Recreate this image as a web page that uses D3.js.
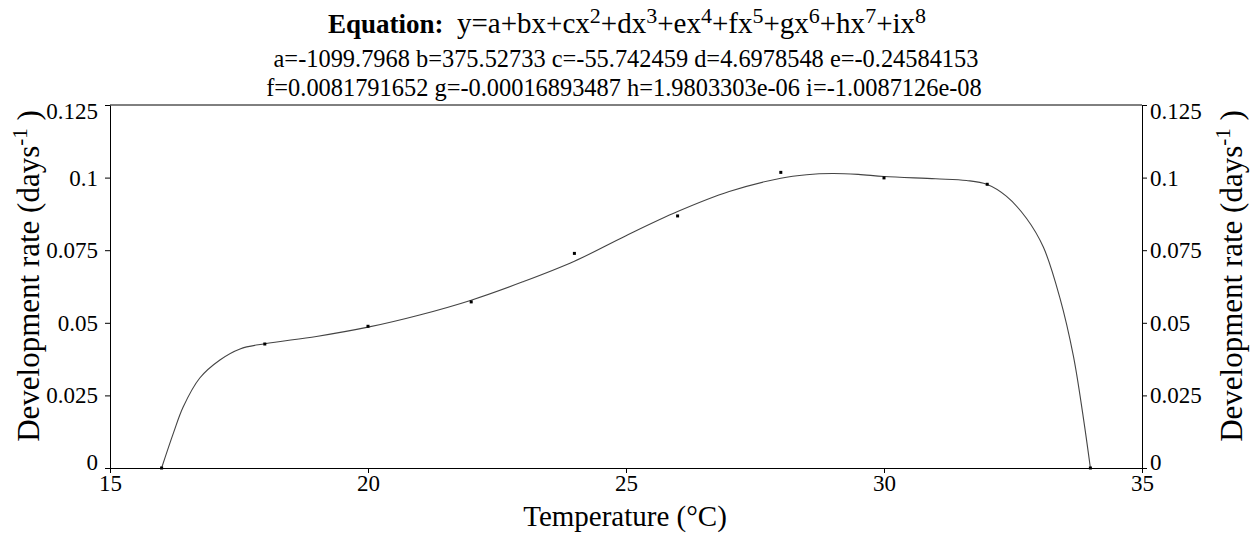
<!DOCTYPE html>
<html lang="en">
<head>
    <meta charset="UTF-8">
    <title>Development rate vs temperature</title>
    <script src="https://d3js.org/d3.v7.min.js"></script>
    <style>
        body { margin: 0; background: #fff; }
        svg, svg text { font-family: "Liberation Serif", "Times New Roman", serif; }
        .tick text { font-size: 23px; fill: #000; }
        .domain, .tick line { stroke: #000; }
        .axis-title { font-size: 29px; }
        .eq { font-size: 24.4px; }
    </style>
</head>
<body>
<div id="chart"></div>
<script>
    // observed development rates
    const temps = [16, 18, 20, 22, 24, 26, 28, 30, 32, 34];
    const rates = [0, 0.0427, 0.0488, 0.0572, 0.0739, 0.0868, 0.1018, 0.0999, 0.0977, 0];

    // fitted curve
    const curveX = [16, 16.23, 16.42, 16.74, 17.13, 17.52, 18, 19, 20, 21, 22, 23, 24, 25, 26, 27, 28,
        28.5, 29, 29.5, 30, 31, 31.6, 31.99, 32.37, 32.76, 33.09, 33.41, 33.67, 33.86, 34];
    const curveY = [0, 0.0121, 0.0211, 0.031, 0.0372, 0.041, 0.0428, 0.0453, 0.0485, 0.0527, 0.0578,
        0.0641, 0.0712, 0.0800, 0.0883, 0.0952, 0.0998, 0.1010, 0.1014, 0.1011, 0.1004, 0.0996, 0.0990,
        0.0977, 0.0936, 0.0860, 0.0760, 0.0585, 0.0386, 0.0177, 0];

    const xTicks = [15, 20, 25, 30, 35];
    const yTicks = [0, 0.025, 0.05, 0.075, 0.1, 0.125];

    const coefLine1 = "a=-1099.7968 b=375.52733 c=-55.742459 d=4.6978548 e=-0.24584153";
    const coefLine2 = "f=0.0081791652 g=-0.00016893487 h=1.9803303e-06 i=-1.0087126e-08";
    const eqTerms = [["y=a+bx+cx", "2"], ["+dx", "3"], ["+ex", "4"], ["+fx", "5"],
        ["+gx", "6"], ["+hx", "7"], ["+ix", "8"]];

    const W = 1255, H = 536;
    const margin = { top: 105, right: 113, bottom: 68, left: 110 };
    const width = W - margin.left - margin.right,
        height = H - margin.top - margin.bottom;

    const svg = d3.select("#chart").append("svg")
        .attr("width", W)
        .attr("height", H);

    const g = svg.append("g")
        .attr("transform", `translate(${margin.left},${margin.top})`);

    const x = d3.scaleLinear().domain([15, 35]).range([0, width]);
    const y = d3.scaleLinear().domain([0, 0.125]).range([height, 0]);

    const fmt = d => d === 0 ? "0" : String(d);
    // end labels sit inside the axis range, like the original
    const yLabelDy = d => d === 0.125 ? "0.6em" : d === 0 ? "0.05em" : "0.33em";

    g.append("g")
        .attr("transform", `translate(0,${height})`)
        .call(d3.axisBottom(x).tickValues(xTicks).tickSize(5).tickSizeOuter(0).tickPadding(2));

    g.append("g")
        .call(d3.axisLeft(y).tickValues(yTicks).tickFormat(fmt).tickSize(5).tickSizeOuter(0).tickPadding(7))
        .selectAll(".tick text").attr("dy", yLabelDy);

    g.append("g")
        .attr("transform", `translate(${width},0)`)
        .call(d3.axisRight(y).tickValues(yTicks).tickFormat(fmt).tickSize(5).tickSizeOuter(0).tickPadding(3))
        .selectAll(".tick text").attr("dy", yLabelDy);

    g.selectAll("g").attr("font-family", null).attr("font-size", null);

    // top border
    g.append("line")
        .attr("x1", 0).attr("x2", width)
        .attr("y1", 0).attr("y2", 0)
        .attr("stroke", "#000");

    // fitted line
    const line = d3.line()
        .x((d, i) => x(curveX[i]))
        .y(d => y(d))
        .curve(d3.curveCatmullRom.alpha(0.5));

    g.append("path")
        .datum(curveY)
        .attr("d", line)
        .attr("fill", "none")
        .attr("stroke", "#444")
        .attr("stroke-width", 1.1);

    // observed points
    g.selectAll(".pt")
        .data(rates)
        .enter().append("rect")
        .attr("class", "pt")
        .attr("x", (d, i) => x(temps[i]) - 1.5)
        .attr("y", d => y(d) - 1.5)
        .attr("width", 3)
        .attr("height", 3)
        .attr("fill", "#000");

    // axis titles
    function yTitle(cx, cy) {
        const t = svg.append("text")
            .attr("class", "axis-title")
            .style("font-size", "31px")
            .attr("text-anchor", "middle")
            .attr("transform", `translate(${cx},${cy}) rotate(-90)`);
        t.append("tspan").text("Development rate (days");
        t.append("tspan").attr("dy", -12).style("font-size", "21px").text("-1");
        t.append("tspan").attr("dy", 12).text(" )");
    }
    yTitle(39, 276);
    yTitle(1242, 276);

    svg.append("text")
        .attr("class", "axis-title")
        .attr("text-anchor", "middle")
        .attr("x", 625)
        .attr("y", 526)
        .text("Temperature (°C)");

    // equation header
    const eq = svg.append("text")
        .attr("text-anchor", "middle")
        .attr("x", 627)
        .attr("y", 33);
    eq.append("tspan").style("font-weight", "bold").style("font-size", "27px").text("Equation:");
    eq.append("tspan").style("font-size", "30px").attr("dx", 6).text(" ");
    eqTerms.forEach((tm, i) => {
        eq.append("tspan").style("font-size", "29px").attr("dy", i === 0 ? 0 : 10).text(tm[0]);
        eq.append("tspan").style("font-size", "22px").attr("dy", -10).text(tm[1]);
    });

    svg.append("text").attr("class", "eq")
        .attr("text-anchor", "middle")
        .attr("x", 626).attr("y", 67)
        .text(coefLine1);

    svg.append("text").attr("class", "eq")
        .attr("text-anchor", "middle")
        .attr("x", 624).attr("y", 96)
        .text(coefLine2);
</script>
</body>
</html>
